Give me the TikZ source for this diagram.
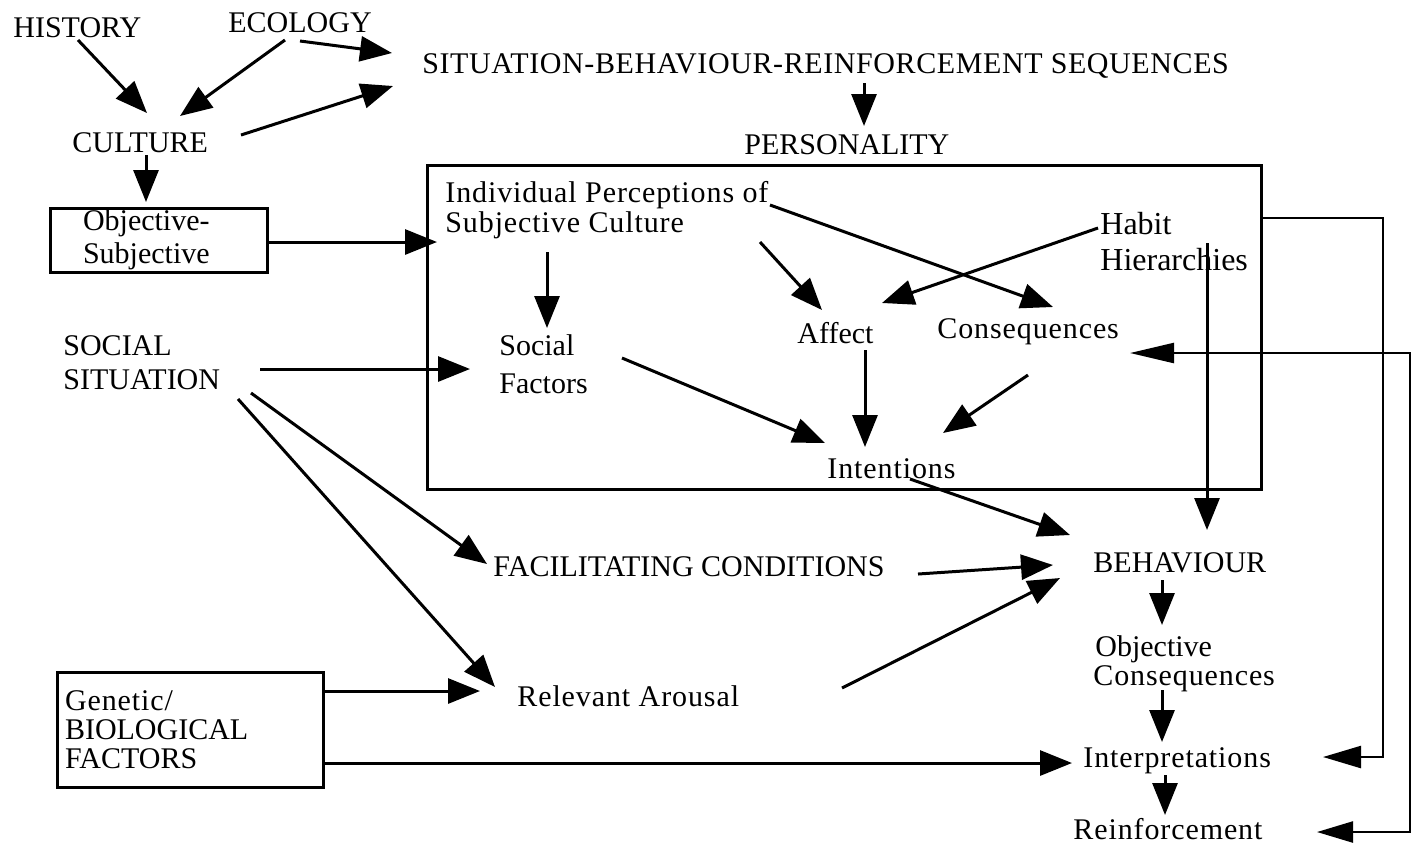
\documentclass[tikz,border=0pt]{standalone}
\usepackage{fontspec}
\setmainfont{Liberation Serif}
\newfontfamily\trackfont{Liberation Serif}[LetterSpace=3]
\newfontfamily\widefont{Liberation Serif}[LetterSpace=2]
\usetikzlibrary{arrows.meta}

\tikzset{
  lbl/.style={inner sep=0pt, anchor=base west, font=\fontsize{15}{17}\selectfont},
  tlbl/.style={lbl, font=\trackfont\fontsize{15}{17}\selectfont},
  biglbl/.style={lbl, font=\fontsize{16}{18}\selectfont},
  frame/.style={draw, line width=1.5pt, inner sep=0pt, outer sep=0pt, anchor=north west},
  arr/.style={line width=1.5pt, -{Triangle[length=16pt,width=12.5pt]}},
  looparr/.style={line width=1.2pt, -{Triangle[length=19pt,width=11pt]}},
  twoloop/.style={line width=1.2pt, {Triangle[length=22pt,width=10pt]}-{Triangle[length=18pt,width=10.5pt]}},
}

\begin{document}
\begin{tikzpicture}[x=0.5pt,y=-0.5pt]
\fill[white] (0,0) rectangle (1412,843);
\useasboundingbox (0,0) rectangle (1412,843);

% personality frame
\node[frame, minimum width=417pt, minimum height=162pt] (persbox) at (427,165) {};

% boxed inputs
\node[frame, minimum width=108.5pt, minimum height=32pt, text width=75.5pt,
      inner xsep=16.5pt, align=left, font=\fontsize{15}{16.5}\selectfont]
      (objsub) at (50,208) {Objective-\\Subjective};
\node[frame, minimum width=133pt, minimum height=57.5pt, text width=125pt,
      inner xsep=4pt, align=left, font=\fontsize{15}{14.5}\selectfont]
      (gen) at (57,672) {{\trackfont Genetic/}\\BIOLOGICAL\\FACTORS};

% labels
\node[lbl]  (hist)    at (13,37)   {HISTORY};
\node[lbl]  (eco)     at (228,32)  {ECOLOGY};
\node[lbl]  (cult)    at (72,152)  {CULTURE};
\node[lbl, font=\widefont\fontsize{15}{17}\selectfont]
            (sbr)     at (422,73)  {SITUATION-BEHAVIOUR-REINFORCEMENT SEQUENCES};
\node[lbl]  (pers)    at (744,154) {PERSONALITY};
\node[tlbl] (indiv1)  at (445,202) {Individual Perceptions of};
\node[tlbl] (indiv2)  at (445,232) {Subjective Culture};
\node[biglbl] (habit1) at (1100,234) {Habit};
\node[biglbl] (habit2) at (1100,270) {Hierarchies};
\node[lbl]  (affect)  at (797,343) {Affect};
\node[tlbl] (conseq)  at (937,338) {Consequences};
\node[lbl]  (social1) at (499,355) {Social};
\node[lbl]  (social2) at (499,393) {Factors};
\node[lbl]  (soc1)    at (63,355)  {SOCIAL};
\node[lbl]  (soc2)    at (63,389)  {SITUATION};
\node[tlbl] (intent)  at (827,478) {Intentions};
\node[lbl]  (facil)   at (493,576) {FACILITATING CONDITIONS};
\node[tlbl] (arousal) at (517,706) {Relevant Arousal};
\node[lbl]  (beh)     at (1093,572) {BEHAVIOUR};
\node[lbl]  (objc1)   at (1095,656) {Objective};
\node[tlbl] (objc2)   at (1093,685) {Consequences};
\node[tlbl] (interp)  at (1083,767) {Interpretations};
\node[tlbl] (reinf)   at (1073,839) {Reinforcement};

% top: history, ecology, culture
\draw[arr] ([shift={(65,3)}]hist.base west)    -- ([shift={(75,-39)}]cult.base west);
\draw[arr] ([shift={(57,8)}]eco.base west)     -- ([shift={(108,-36)}]cult.base west);
\draw[arr] ([shift={(72,9)}]eco.base west)     -- ([shift={(-30,-20)}]sbr.base west);
\draw[arr] ([shift={(169,-17)}]cult.base west) -- ([shift={(-29,13)}]sbr.base west);
\draw[arr] ([shift={(442,10)}]sbr.base west)   -- ([shift={(120,-28)}]pers.base west);
\draw[arr] ([shift={(74,3)}]cult.base west)    -- ([shift={(96,-6)}]objsub.north west);
\draw[arr] ([shift={(217,34)}]objsub.north west) -- ([shift={(10,77)}]persbox.north west);

% inside the personality frame
\draw[arr] ([shift={(102,20)}]indiv2.base west) -- ([shift={(48,-27)}]social1.base west);
\draw[arr] ([shift={(315,10)}]indiv2.base west) -- ([shift={(25,-33)}]affect.base west);
\draw[arr] ([shift={(325,3)}]indiv1.base west)  -- ([shift={(116,-31)}]conseq.base west);
\draw[arr] ([shift={(-2,-6)}]habit1.base west)  -- ([shift={(85,-40)}]affect.base west);
\draw[arr] ([shift={(123,-35)}]social2.base west) -- ([shift={(-2,-35)}]intent.base west);
\draw[arr] ([shift={(68,7)}]affect.base west)   -- ([shift={(38,-31)}]intent.base west);
\draw[arr] ([shift={(91,37)}]conseq.base west)  -- ([shift={(116,-45)}]intent.base west);
\draw[arr] ([shift={(107,-27)}]habit2.base west) -- ([shift={(114,-42)}]beh.base west);

% social situation
\draw[arr] ([shift={(197,-20)}]soc2.base west) -- ([shift={(-29,-24)}]social2.base west);
\draw[arr] ([shift={(188,4)}]soc2.base west)   -- ([shift={(-6,-12)}]facil.base west);
\draw[arr] ([shift={(175,10)}]soc2.base west)  -- ([shift={(-22,-19)}]arousal.base west);

% into behaviour
\draw[arr] ([shift={(83,1)}]intent.base west)    -- ([shift={(-23,-37)}]beh.base west);
\draw[arr] ([shift={(425,-2)}]facil.base west)   -- ([shift={(-40,-7)}]beh.base west);
\draw[arr] ([shift={(325,-18)}]arousal.base west) -- ([shift={(-33,6)}]beh.base west);

% genetic factors
\draw[arr] ([shift={(266,19)}]gen.north west) -- ([shift={(-37,-15)}]arousal.base west);
\draw[arr] ([shift={(266,91)}]gen.north west) -- ([shift={(-11,-4)}]interp.base west);

% behaviour chain
\draw[arr] ([shift={(69,8)}]beh.base west)    -- ([shift={(67,-31)}]objc1.base west);
\draw[arr] ([shift={(69,5)}]objc2.base west)  -- ([shift={(79,-25)}]interp.base west);
\draw[arr] ([shift={(82,8)}]interp.base west) -- ([shift={(92,-24)}]reinf.base west);

% feedback loops
\draw[looparr] ([shift={(834,53)}]persbox.north west) -| ([shift={(300,-10)}]interp.base west)
               -- ([shift={(240,-10)}]interp.base west);
\draw[twoloop] ([shift={(193,15)}]conseq.base west) -- ([shift={(473,15)}]conseq.base west)
               |- ([shift={(244,-7)}]reinf.base west);
\end{tikzpicture}
\end{document}
